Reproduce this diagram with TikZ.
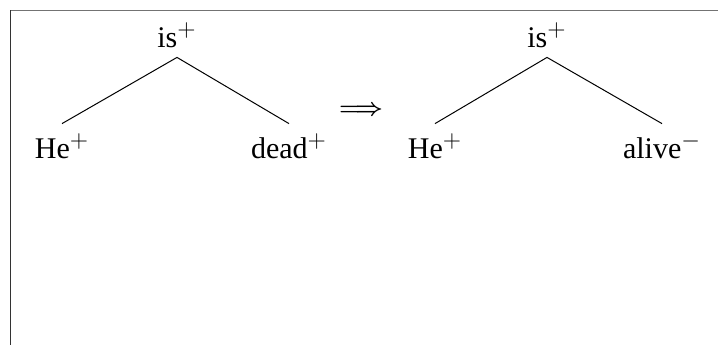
\documentclass[tikz,border=0pt]{standalone}
\usepackage{fontspec}
\setmainfont{Liberation Serif}
\DeclareMathSizes{15}{15}{12}{9}
\newcommand\lowersupshift{$\global\fontdimen13\textfont2=3pt$}
\begin{document}
\begin{tikzpicture}[x=0.5pt,y=-0.5pt,
  word/.style={font=\fontsize{15}{18}\selectfont, anchor=base, inner xsep=0pt,
    execute at begin node={\lowersupshift}},
  root/.style={word, inner ysep=2pt, text depth=3pt},
  leaf/.style={word, inner ysep=6pt, text height=11pt},
  branch/.style={line width=0.5pt, black},
  frameline/.style={line width=0.9pt}]
\useasboundingbox (0,0) rectangle (718,345);
\draw[frameline, black!55] (10,10.5) -- (718,10.5);
\draw[frameline, black!80] (10.5,10) -- (10.5,345);
% left tree
\node[root] (is1) at (177,47) {is$^{+}$};
\node[leaf] (he1) at (62,158) {He$^{+}$};
\node[leaf] (dead) at (289,158) {dead$^{+}$};
\draw[branch] (is1.south) -- (he1.north);
\draw[branch] (is1.south) -- (dead.north);
% arrow
\node[font=\fontsize{13}{15}\selectfont\boldmath, inner sep=0pt] (arr) at (361,111) {$\Longrightarrow$};
% right tree
\node[root] (is2) at (547,47) {is$^{+}$};
\node[leaf] (he2) at (435,158) {He$^{+}$};
\node[leaf] (alive) at (662,158) {alive$^{-}$};
\draw[branch] (is2.south) -- (he2.north);
\draw[branch] (is2.south) -- (alive.north);
\end{tikzpicture}
\end{document}
